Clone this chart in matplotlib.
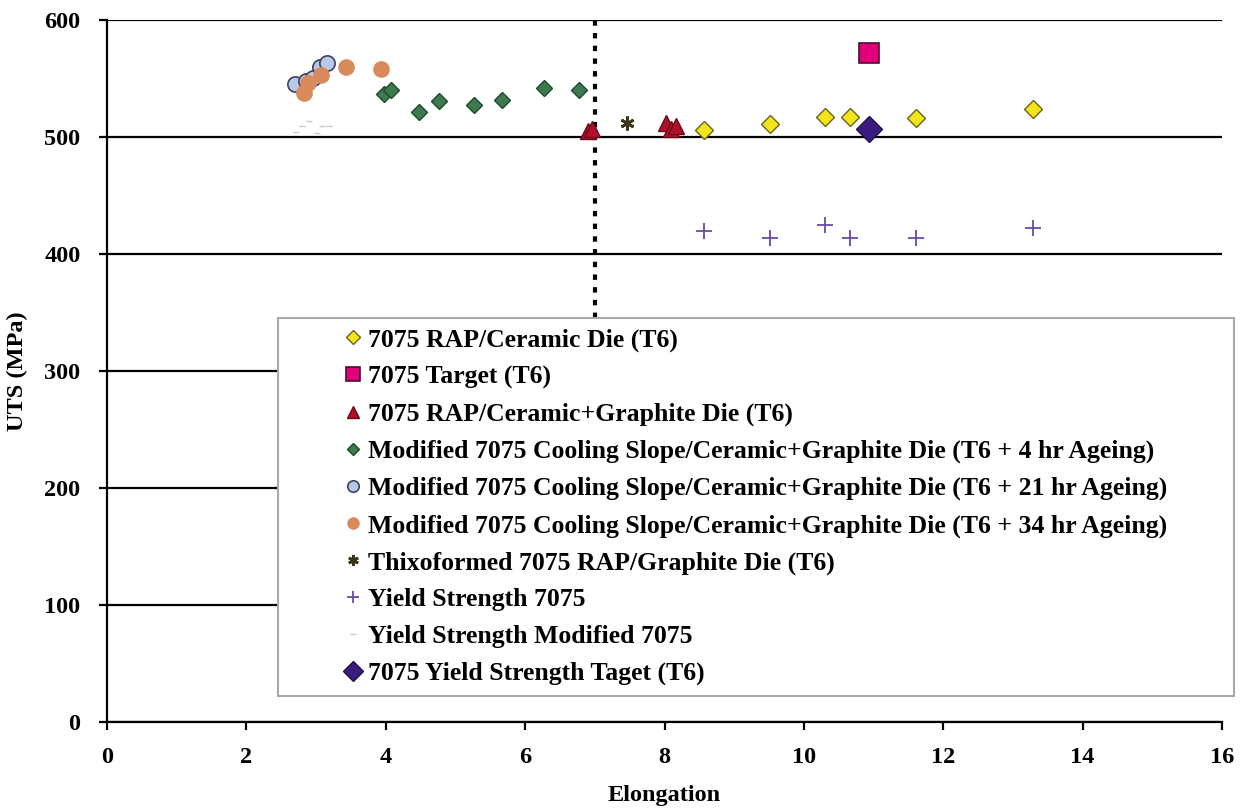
import matplotlib
matplotlib.use("Agg")
import matplotlib.pyplot as plt

plt.rcParams['font.family'] = ['Liberation Serif', 'DejaVu Serif']
plt.rcParams['font.weight'] = 'bold'

# 7075 RAP/Ceramic Die (T6)
rap_cer_x = [8.56, 9.51, 10.30, 10.66, 11.61, 13.29]
rap_cer_y = [506, 511, 517, 517, 516, 524]
# 7075 Target (T6)
target_x = [10.94]
target_y = [572]
# 7075 RAP/Ceramic+Graphite Die (T6)
rap_cg_x = [6.90, 6.96, 8.02, 8.10, 8.16]
rap_cg_y = [505, 507, 512, 507, 509]
# Modified 7075, 4 hr ageing
mod4_x = [3.97, 4.08, 4.47, 4.77, 5.27, 5.67, 6.27, 6.77]
mod4_y = [537, 540, 521, 531, 527, 532, 542, 540]
# Modified 7075, 21 hr ageing
mod21_x = [2.70, 2.85, 2.95, 3.05, 3.15]
mod21_y = [545, 548, 550, 560, 563]
# Modified 7075, 34 hr ageing
mod34_x = [2.82, 2.88, 3.07, 3.43, 3.93]
mod34_y = [538, 546, 553, 560, 558]
# Thixoformed 7075 RAP/Graphite Die (T6)
thixo_x = [7.46]
thixo_y = [512]
# Yield Strength 7075
ys_x = [8.56, 9.51, 10.30, 10.66, 11.61, 13.29]
ys_y = [420, 414, 425, 414, 414, 422]
# Yield Strength Modified 7075
ysm_x = [2.71, 2.80, 2.90, 3.01, 3.09, 3.19]
ysm_y = [504, 509, 514, 503, 509, 509]
# 7075 Yield Strength Target (T6)
ys_target_x = [10.94]
ys_target_y = [507]

fig = plt.figure(figsize=(12.42, 8.08), dpi=100)
ax = fig.add_axes([107/1242, 1 - 722/808, (1222 - 107)/1242, (722 - 20)/808])

ax.axvline(7, ymin=345/600, ymax=1, color='black', lw=3,
           linestyle=(0, (1.3, 1.75)), zorder=1)

ax.plot(rap_cer_x, rap_cer_y, 'D', ms=9, mfc='#f2e51a', mec='#6b6420', mew=1,
        label='7075 RAP/Ceramic Die (T6)', zorder=3)
ax.plot(target_x, target_y, 's', ms=14, mfc='#e2007a', mec='#4a1030', mew=1.2,
        label='7075 Target (T6)', zorder=3)
ax.plot(rap_cg_x, rap_cg_y, '^', ms=11, mfc='#b0102c', mec='#6a0a18', mew=1,
        label='7075 RAP/Ceramic+Graphite Die (T6)', zorder=3)
ax.plot(mod4_x, mod4_y, 'D', ms=8, mfc='#3e7a50', mec='#1e4a2a', mew=1,
        label='Modified 7075 Cooling Slope/Ceramic+Graphite Die (T6 + 4 hr Ageing)', zorder=3)
ax.plot(mod21_x, mod21_y, 'o', ms=11, mfc='#b8c8e6', mec='#3c4260', mew=1.2,
        label='Modified 7075 Cooling Slope/Ceramic+Graphite Die (T6 + 21 hr Ageing)', zorder=3)
ax.plot(mod34_x, mod34_y, 'o', ms=12, mfc='#d98a5a', mec='#d98a5a', mew=0,
        label='Modified 7075 Cooling Slope/Ceramic+Graphite Die (T6 + 34 hr Ageing)', zorder=3)
ax.plot(thixo_x, thixo_y, marker=(6, 2, 0), ls='none', ms=10, mec='#3a3418', mew=2,
        label='Thixoformed 7075 RAP/Graphite Die (T6)', zorder=3)
ax.plot(ys_x, ys_y, '+', ms=11, mec='#6a4aa6', mew=1.3,
        label='Yield Strength 7075', zorder=3)
ax.plot(ysm_x, ysm_y, '_', ms=5, mec='#c8c8d0', mew=1,
        label='Yield Strength Modified 7075', zorder=3)
ax.plot(ys_target_x, ys_target_y, 'D', ms=13, mfc='#3a1c80', mec='#20104a', mew=1,
        label='7075 Yield Strength Taget (T6)', zorder=3)

ax.set_xlim(0, 16)
ax.set_ylim(0, 600)
ax.set_xticks(range(0, 17, 2))
ax.set_yticks(range(0, 601, 100))
ax.yaxis.grid(True, color='black', lw=1.6)
ax.set_axisbelow(True)
for s in ['top', 'right']:
    ax.spines[s].set_visible(False)
for s in ['left', 'bottom']:
    ax.spines[s].set_linewidth(1.6)
ax.tick_params(axis='both', direction='out', length=6, width=1.6, labelsize=17.5)
ax.tick_params(axis='x', pad=12)
ax.tick_params(axis='y', pad=13)
ax.set_xlabel('Elongation', fontsize=17.5, fontweight='bold', labelpad=12)
ax.set_ylabel('UTS (MPa)', fontsize=17.5, fontweight='bold', labelpad=12)

leg = ax.legend(loc='upper left', bbox_to_anchor=(278/1242, 1 - 691/808, (1234 - 278)/1242, (691 - 318)/808),
                bbox_transform=fig.transFigure, mode='expand', numpoints=1, borderaxespad=0,
                fontsize=18.5, handlelength=5.0, handletextpad=-1.9, labelspacing=0.535,
                markerscale=0.75, borderpad=0.4, fancybox=False, framealpha=1, edgecolor='#a8a8a8')
leg.get_frame().set_linewidth(1.5)
leg.set_zorder(5)

fig.savefig('out.png', dpi=100)
